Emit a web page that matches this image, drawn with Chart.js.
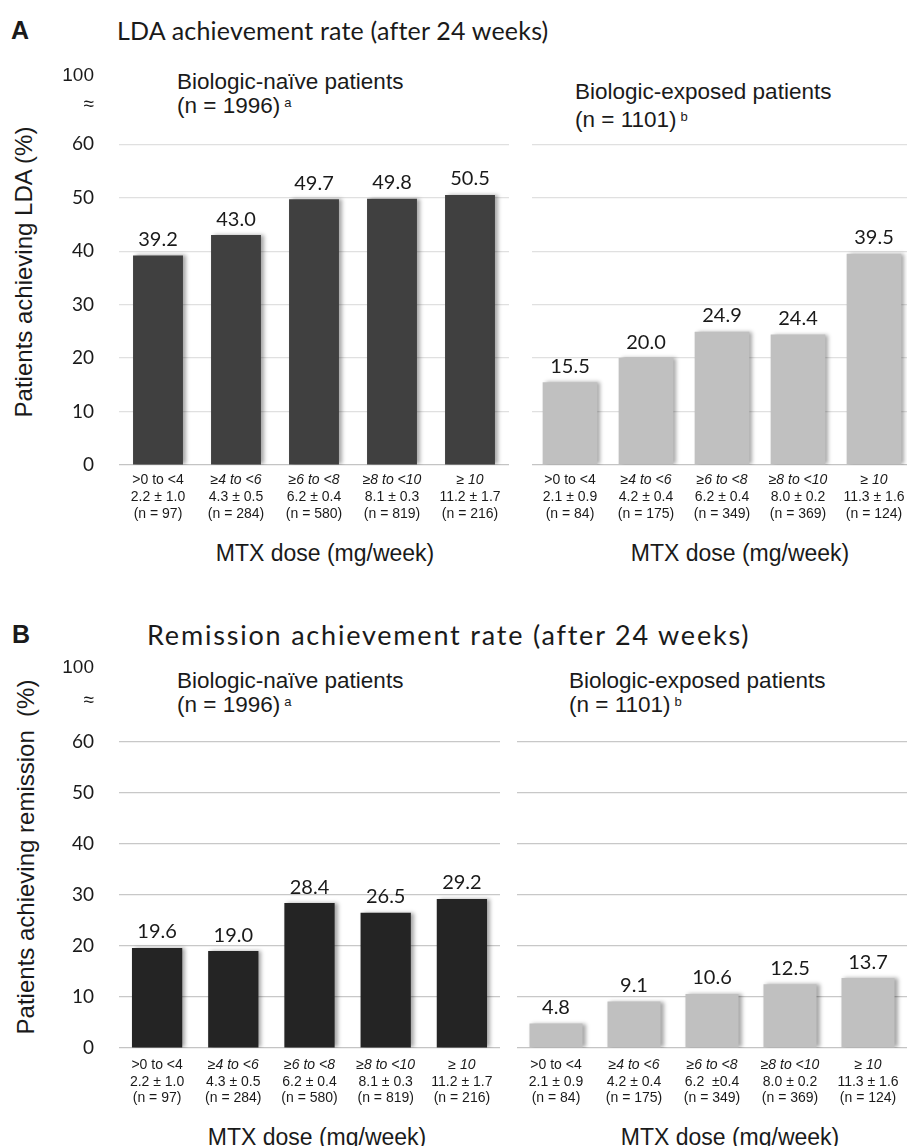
<!DOCTYPE html>
<html>
<head>
<meta charset="utf-8">
<script src="https://cdn.jsdelivr.net/npm/chart.js@4.4.1/dist/chart.umd.min.js"></script>
<style>
  body { margin: 0; width: 907px; height: 1146px; position: relative; background: #fff; overflow: hidden; }
  canvas { position: absolute; }
  .t { position: absolute; white-space: nowrap; line-height: 1; transform: translateY(-50%); color: #1a1a1a; font-family: "Liberation Sans", Arial, sans-serif; }
  .panel { font-weight: bold; font-size: 25px; }
  .title { font-family: Lato, sans-serif; font-size: 25px; letter-spacing: 0.2px; }
  .title.wide { font-size: 27px; letter-spacing: 1.8px; }
  .head { font-size: 22.5px; }
  .head sup { font-size: 13px; vertical-align: 6px; margin-left: 4px; }
  .xt { font-size: 23px; transform: translate(-50%, -50%); }
  .yt { font-size: 24px; transform: translate(-50%, -50%) rotate(-90deg); }
</style>
</head>
<body>

<div class="t panel" style="left:11px; top:30px">A</div>
<div class="t title" style="left:117px; top:30px">LDA achievement rate (after 24 weeks)</div>
<div class="t head" style="left:177px; top:82px">Biologic-naïve patients</div>
<div class="t head" style="left:177px; top:106px">(n = 1996)<sup>a</sup></div>
<div class="t head" style="left:575px; top:92px">Biologic-exposed patients</div>
<div class="t head" style="left:575px; top:120px">(n = 1101)<sup>b</sup></div>
<div class="t yt" style="left:24px; top:272px">Patients achieving LDA (%)</div>
<div class="t xt" style="left:325px; top:553px">MTX dose (mg/week)</div>
<div class="t xt" style="left:740px; top:553px">MTX dose (mg/week)</div>

<div class="t panel" style="left:12px; top:634px">B</div>
<div class="t title wide" style="left:147px; top:634px">Remission achievement rate (after 24 weeks)</div>
<div class="t head" style="left:177px; top:681px">Biologic-naïve patients</div>
<div class="t head" style="left:177px; top:705px">(n = 1996)<sup>a</sup></div>
<div class="t head" style="left:569px; top:681px">Biologic-exposed patients</div>
<div class="t head" style="left:569px; top:705px">(n = 1101)<sup>b</sup></div>
<div class="t yt" style="left:26px; top:857px">Patients achieving remission&nbsp; (%)</div>
<div class="t xt" style="left:317px; top:1137px">MTX dose (mg/week)</div>
<div class="t xt" style="left:730px; top:1137px">MTX dose (mg/week)</div>

<canvas id="ldaNaive" width="509" height="580" style="left:0; top:0"></canvas>
<canvas id="ldaExposed" width="380" height="580" style="left:532px; top:0"></canvas>
<canvas id="remNaive" width="500" height="556" style="left:0; top:590px"></canvas>
<canvas id="remExposed" width="390" height="556" style="left:517px; top:590px"></canvas>

<script>
const doseRanges = ['>0 to <4', '≥4 to <6', '≥6 to <8', '≥8 to <10', '≥ 10'];
const naiveDose = ['2.2 ± 1.0', '4.3 ± 0.5', '6.2 ± 0.4', '8.1 ± 0.3', '11.2 ± 1.7'];
const naiveN = ['(n = 97)', '(n = 284)', '(n = 580)', '(n = 819)', '(n = 216)'];
const exposedDose = ['2.1 ± 0.9', '4.2 ± 0.4', '6.2 ± 0.4', '8.0 ± 0.2', '11.3 ± 1.6'];
const exposedDoseB = ['2.1 ± 0.9', '4.2 ± 0.4', '6.2  ±0.4', '8.0 ± 0.2', '11.3 ± 1.6'];
const exposedN = ['(n = 84)', '(n = 175)', '(n = 349)', '(n = 369)', '(n = 124)'];

const ldaNaive = [39.2, 43.0, 49.7, 49.8, 50.5];
const ldaExposed = [15.5, 20.0, 24.9, 24.4, 39.5];
const remNaive = [19.6, 19.0, 28.4, 26.5, 29.2];
const remExposed = [4.8, 9.1, 10.6, 12.5, 13.7];

const yTicks = [0, 10, 20, 30, 40, 50, 60];
const breakLabels = ['≈', '100'];

// bar shadow + value above each bar
const barExtras = {
    id: 'barExtras',
    beforeDatasetsDraw(chart) {
        const c = chart.ctx;
        c.save();
        c.shadowColor = 'rgba(0,0,0,0.35)';
        c.shadowBlur = 4;
        c.shadowOffsetX = 3;
    },
    afterDatasetsDraw(chart) {
        const c = chart.ctx;
        c.restore();
        c.save();
        c.font = '20px Lato';
        c.fillStyle = '#1a1a1a';
        c.textAlign = 'center';
        c.textBaseline = 'bottom';
        const values = chart.data.datasets[0].data;
        chart.getDatasetMeta(0).data.forEach((bar, i) => {
            c.fillText(values[i].toFixed(1), bar.x, bar.y - 6);
        });
        c.restore();
    }
};

function doseLabels(lines, offsets) {
    return {
        id: 'doseLabels',
        afterDraw(chart) {
            const c = chart.ctx;
            const xs = chart.scales.x;
            const base = chart.chartArea.bottom;
            c.save();
            c.fillStyle = '#1a1a1a';
            c.textAlign = 'center';
            c.textBaseline = 'middle';
            lines.forEach((row, r) => {
                row.forEach((txt, i) => {
                    c.font = (r === 0 && i > 0 ? 'italic ' : '') + '14px "Liberation Sans", Arial';
                    c.fillText(txt, xs.getPixelForValue(i), base + offsets[r]);
                });
            });
            c.restore();
        }
    };
}

function makeChart(id, cfg) {
    const allTicks = yTicks.concat(cfg.breakAt);
    return new Chart(document.getElementById(id), {
        type: 'bar',
        data: {
            labels: doseRanges,
            datasets: [{
                data: cfg.values,
                backgroundColor: cfg.color,
                barPercentage: cfg.barPct,
                categoryPercentage: 1
            }]
        },
        options: {
            responsive: false,
            animation: false,
            layout: { padding: { top: cfg.padTop, right: 0, bottom: 0, left: 0 } },
            plugins: {
                legend: { display: false },
                tooltip: { enabled: false }
            },
            scales: {
                x: {
                    grid: { display: false },
                    border: { display: false },
                    ticks: { display: false },
                    afterFit: (s) => { s.height = cfg.xHeight; }
                },
                y: {
                    min: 0,
                    max: cfg.yMax,
                    border: { display: false },
                    grid: {
                        drawTicks: false,
                        lineWidth: 1.2,
                        color: (ctx) => {
                            if (!ctx.tick || ctx.tick.value > 60) return 'rgba(0,0,0,0)';
                            return ctx.tick.value === 0 ? '#c4c4c4' : cfg.gridColor;
                        }
                    },
                    ticks: {
                        display: cfg.showY,
                        padding: 25,
                        color: '#1a1a1a',
                        font: (ctx) => (ctx.tick && ctx.tick.value > 60)
                            ? { family: '"Liberation Sans", Arial', size: 19 }
                            : { family: 'Lato', size: 19 },
                        callback: (v) => yTicks.includes(v) ? String(v) : breakLabels[cfg.breakAt.indexOf(v)]
                    },
                    afterBuildTicks: (s) => { s.ticks = allTicks.map((v) => ({ value: v })); },
                    afterFit: (s) => { s.width = cfg.axisWidth; }
                }
            }
        },
        plugins: [barExtras, doseLabels(cfg.lines, cfg.offsets)]
    });
}

makeChart('ldaNaive', {
    values: ldaNaive, color: '#404040', barPct: 0.64, yMax: 75, breakAt: [67.3, 72.8],
    showY: true, axisWidth: 119, padTop: 64, xHeight: 115, gridColor: '#e0e0e0',
    lines: [doseRanges, naiveDose, naiveN], offsets: [15, 32, 49]
});
makeChart('ldaExposed', {
    values: ldaExposed, color: '#c0c0c0', barPct: 0.72, yMax: 75, breakAt: [67.3, 72.8],
    showY: false, axisWidth: 0, padTop: 64, xHeight: 115, gridColor: '#e0e0e0',
    lines: [doseRanges, exposedDose, exposedN], offsets: [15, 32, 49]
});
makeChart('remNaive', {
    values: remNaive, color: '#242424', barPct: 0.66, yMax: 78, breakAt: [68.0, 74.5],
    showY: true, axisWidth: 119, padTop: 60, xHeight: 98, gridColor: '#c8c8c8',
    lines: [doseRanges, naiveDose, naiveN], offsets: [17, 34, 50]
});
makeChart('remExposed', {
    values: remExposed, color: '#c0c0c0', barPct: 0.68, yMax: 78, breakAt: [68.0, 74.5],
    showY: false, axisWidth: 0, padTop: 60, xHeight: 98, gridColor: '#c8c8c8',
    lines: [doseRanges, exposedDoseB, exposedN], offsets: [17, 34, 50]
});
</script>
</body>
</html>
